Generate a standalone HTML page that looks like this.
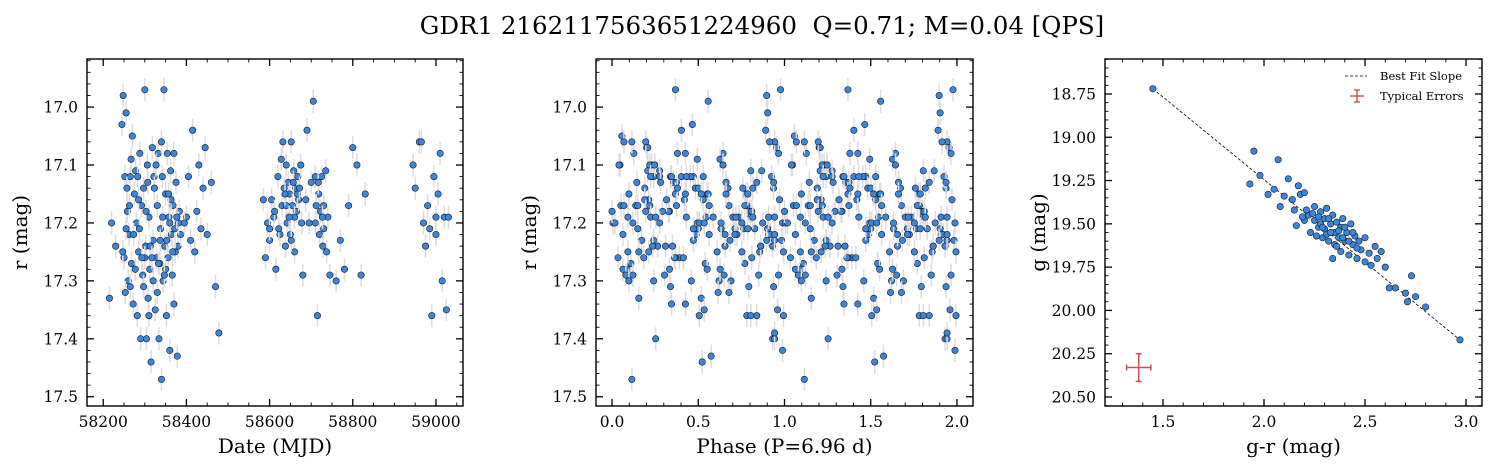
<!DOCTYPE html>
<html><head><meta charset="utf-8">
<style>
html,body{margin:0;padding:0;background:#fff;}
svg{display:block;font-family:"DejaVu Serif","Liberation Serif",serif;}
</style></head>
<body>
<svg id="fig" width="1497" height="473" xmlns="http://www.w3.org/2000/svg">
<text x="762" y="34" text-anchor="middle" font-size="24.5" style="white-space:pre">GDR1 2162117563651224960  Q=0.71; M=0.04 [QPS]</text>
</svg>
<script>
// Light curve data (MJD, r mag)
const lcDates = [58215,58220,58230,58245,58248,58250,58252,58255,58258,58260,58262,58265,58268,58270,58272,58275,58278,58280,58282,58285,58288,58290,58292,58295,58297,58300,58302,58304,58306,58308,58310,58312,58315,58318,58320,58322,58325,58328,58330,58332,58334,58336,58338,58340,58342,58344,58346,58348,58350,58352,58354,58356,58358,58360,58362,58364,58366,58368,58370,58372,58375,58378,58380,58383,58386,58400,58405,58410,58415,58420,58425,58430,58440,58445,58450,58470,58478,58460,58255,58265,58285,58300,58320,58340,58350,58360,58370,58310,58330,
58247,58253,58263,58273,58283,58293,58303,58313,58323,58333,58343,58353,58363,58373,58381,58257,58267,58277,58287,58297,58307,58317,58327,58337,58347,58357,58367,58377,58395,58435,
58585,58590,58595,58600,58605,58610,58615,58620,58625,58628,58630,58632,58635,58638,58640,58642,58645,58648,58650,58652,58655,58658,58660,58662,58665,58668,58670,58675,58680,58690,58695,58700,58705,58710,58715,58718,58720,58722,58725,58728,58730,58735,58740,58745,58760,58770,58780,58790,58800,58810,58820,58830,58600,58640,58660,58710,58730,
58622,58637,58647,58657,58667,58677,58687,58712,58717,58727,58737,58612,58652,58672,
58945,58950,58960,58965,58970,58975,58980,58985,58990,58995,59000,59005,59010,59015,59020,59025,59030,59000];
const lcMags = [17.33,17.20,17.24,17.03,16.98,17.26,17.12,17.01,17.18,17.30,17.22,17.12,17.27,17.05,17.34,17.15,17.11,17.20,17.36,17.25,17.08,17.40,17.17,17.29,17.14,16.97,17.24,17.40,17.10,17.33,17.19,17.28,17.44,17.07,17.23,17.12,17.35,17.26,17.17,17.08,17.40,17.27,17.21,17.47,17.12,17.30,16.97,17.24,17.15,17.36,17.08,17.26,17.19,17.42,17.11,17.22,17.29,17.17,17.34,17.21,17.13,17.43,17.24,17.18,17.22,17.19,17.12,17.23,17.04,17.25,17.18,17.10,17.14,17.07,17.22,17.31,17.39,17.13,17.21,17.31,17.16,17.26,17.30,17.06,17.28,17.20,17.08,17.36,17.32,
17.25,17.32,17.17,17.22,17.12,17.26,17.18,17.24,17.14,17.27,17.19,17.23,17.16,17.25,17.20,17.14,17.09,17.28,17.21,17.31,17.13,17.26,17.10,17.23,17.29,17.15,17.25,17.19,17.20,17.21,
17.16,17.26,17.20,17.23,17.16,17.19,17.28,17.12,17.22,17.09,17.17,17.06,17.14,17.24,17.10,17.20,17.13,17.15,17.22,17.06,17.17,17.11,17.25,17.14,17.18,17.12,17.16,17.10,17.29,17.04,17.20,17.13,16.99,17.20,17.36,17.15,17.22,17.18,17.12,17.24,17.17,17.11,17.19,17.29,17.30,17.23,17.28,17.17,17.07,17.10,17.29,17.15,17.21,17.17,17.19,17.12,17.21,
17.21,17.15,17.19,17.13,17.15,17.20,17.16,17.17,17.13,17.19,17.25,17.18,17.23,17.14,
17.10,17.14,17.06,17.06,17.20,17.24,17.17,17.21,17.36,17.12,17.19,17.15,17.08,17.30,17.19,17.35,17.19,17.22];
const period = 6.96;
// Color-magnitude data
const cmGR = [1.45,1.93,1.95,1.98,2.02,2.05,2.07,2.08,2.10,2.12,2.15,2.17,2.18,2.20,2.20,2.22,2.23,2.25,2.25,2.27,2.28,2.29,2.30,2.30,2.31,2.32,2.33,2.34,2.35,2.35,2.36,2.37,2.38,2.38,2.39,2.40,2.41,2.42,2.43,2.44,2.45,2.46,2.47,2.48,2.50,2.50,2.52,2.53,2.55,2.56,2.58,2.60,2.62,2.65,2.70,2.71,2.73,2.75,2.80,2.97,2.26,2.28,2.32,2.36,2.40,2.44,2.34,2.16,2.14,2.24,2.29,2.31,2.37,2.39,2.42,2.46,2.33,2.27,2.21,2.19];
const cmG = [18.72,19.27,19.08,19.22,19.33,19.30,19.13,19.40,19.34,19.24,19.42,19.28,19.33,19.48,19.32,19.45,19.55,19.40,19.48,19.52,19.43,19.58,19.47,19.53,19.41,19.60,19.50,19.45,19.62,19.55,19.49,19.58,19.52,19.66,19.47,19.60,19.55,19.68,19.50,19.62,19.57,19.70,19.60,19.65,19.72,19.58,19.67,19.74,19.63,19.70,19.66,19.75,19.87,19.87,19.90,19.95,19.80,19.92,19.98,20.17,19.57,19.50,19.47,19.63,19.52,19.55,19.70,19.51,19.36,19.44,19.52,19.56,19.54,19.58,19.60,19.64,19.55,19.46,19.42,19.46];
const fitLine = [[1.45,18.72],[2.97,20.17]];
const typErr = {x:1.38, y:20.33, xe:0.06, ye:0.08};

const NS="http://www.w3.org/2000/svg";
const fig=document.getElementById('fig');
function mk(tag,attrs,parent){const e=document.createElementNS(NS,tag);for(const k in attrs)e.setAttribute(k,attrs[k]);(parent||fig).appendChild(e);return e;}

function axes(o){
  const g=mk('g',{});
  
  
  const sx=v=>o.x0+(v-o.xmin)/(o.xmax-o.xmin)*(o.x1-o.x0);
  const sy=v=>o.y0+(v-o.ymin)/(o.ymax-o.ymin)*(o.y1-o.y0);
  const marks=mk('g',{},g);
  const t=mk('g',{stroke:'#000'},g);
  const eps=1e-9;
  for(let v=Math.ceil((o.xmin)/o.xminor-eps)*o.xminor; v<=o.xmax+eps; v+=o.xminor){
    const major=Math.abs(v/o.xmajor-Math.round(v/o.xmajor))<1e-6;
    const L=major?7:3.5,X=sx(v);
    mk('line',{x1:X,x2:X,y1:o.y1,y2:o.y1-L,'stroke-width':major?1.3:0.9},t);
    mk('line',{x1:X,x2:X,y1:o.y0,y2:o.y0+L,'stroke-width':major?1.3:0.9},t);
    if(major){const tl=mk('text',{x:X,y:o.y1+21,'text-anchor':'middle','font-size':15.5,stroke:'none'},g);tl.textContent=o.xfmt(v);
      }
  }
  for(let v=Math.ceil((o.ymin)/o.yminor-eps)*o.yminor; v<=o.ymax+eps; v+=o.yminor){
    const major=Math.abs(v/o.ymajor-Math.round(v/o.ymajor))<1e-6;
    const L=major?7:3.5,Y=sy(v);
    mk('line',{x1:o.x0,x2:o.x0+L,y1:Y,y2:Y,'stroke-width':major?1.3:0.9},t);
    mk('line',{x1:o.x1,x2:o.x1-L,y1:Y,y2:Y,'stroke-width':major?1.3:0.9},t);
    if(major){const tl=mk('text',{x:o.x0-9,y:Y+5.5,'text-anchor':'end','font-size':15.5},g);tl.textContent=o.yfmt(v);
      }
  }
  const fr=mk('rect',{x:o.x0,y:o.y0,width:o.x1-o.x0,height:o.y1-o.y0,fill:'none',stroke:'#000','stroke-width':1.4},g);
  
  const xl=mk('text',{x:(o.x0+o.x1)/2,y:o.y1+47,'text-anchor':'middle','font-size':20},g);xl.textContent=o.xlabel;
  
  const yl=mk('text',{x:0,y:0,'text-anchor':'middle','font-size':20,transform:`translate(${o.x0-60},${(o.y0+o.y1)/2}) rotate(-90)`},g);yl.textContent=o.ylabel;
  
  return {sx,sy,marks};
}
function pt(ax,x,y,err){
  const X=ax.sx(x),Y=ax.sy(y);
  if(err){const e=mk('line',{x1:X,x2:X,y1:ax.sy(y-err),y2:ax.sy(y+err),stroke:'#ddd','stroke-width':1.5},ax.marks);
    }
  const c=mk('circle',{cx:X,cy:Y,r:3.2,fill:'#3b86d8',stroke:'#1a1a2a','stroke-width':0.6},ax.marks);
  
}
const f1=v=>v.toFixed(1), f2=v=>v.toFixed(2), f0=v=>Math.round(v).toString();

const a1=axes({name:'light-curve-panel',x0:87,x1:463,y0:59,y1:406,xmin:58161,xmax:59065,ymin:16.917,ymax:17.516,xmajor:200,xminor:50,ymajor:0.1,yminor:0.02,xfmt:f0,yfmt:f1,xlabel:'Date (MJD)',ylabel:'r (mag)'});
lcDates.forEach((d,i)=>pt(a1,d,lcMags[i],0.02));

const a2=axes({name:'phase-folded-panel',x0:596,x1:973,y0:59,y1:406,xmin:-0.093,xmax:2.093,ymin:16.917,ymax:17.516,xmajor:0.5,xminor:0.1,ymajor:0.1,yminor:0.02,xfmt:f1,yfmt:f1,xlabel:'Phase (P=6.96 d)',ylabel:'r (mag)'});
lcDates.forEach((d,i)=>{const ph=((d-58200)/period)%1; pt(a2,ph,lcMags[i],0.02); pt(a2,ph+1,lcMags[i],0.02);});

const a3=axes({name:'color-magnitude-panel',x0:1105,x1:1482,y0:59,y1:406,xmin:1.213,xmax:3.079,ymin:18.548,ymax:20.552,xmajor:0.5,xminor:0.1,ymajor:0.25,yminor:0.05,xfmt:f1,yfmt:f2,xlabel:'g-r (mag)',ylabel:'g (mag)'});
const fl=mk('line',{x1:a3.sx(fitLine[0][0]),y1:a3.sy(fitLine[0][1]),x2:a3.sx(fitLine[1][0]),y2:a3.sy(fitLine[1][1]),stroke:'#000','stroke-width':0.8,'stroke-dasharray':'3,2'},a3.marks);

cmGR.forEach((x,i)=>pt(a3,x,cmG[i],0));
const eg=mk('g',{stroke:'#d05050','stroke-width':1.5});

{const X=a3.sx(typErr.x),Y=a3.sy(typErr.y),x1=a3.sx(typErr.x-typErr.xe),x2=a3.sx(typErr.x+typErr.xe),y1=a3.sy(typErr.y-typErr.ye),y2=a3.sy(typErr.y+typErr.ye);
 mk('line',{x1:x1,x2:x2,y1:Y,y2:Y},eg);mk('line',{x1:X,x2:X,y1:y1,y2:y2},eg);
 mk('line',{x1:x1,x2:x1,y1:Y-3,y2:Y+3},eg);mk('line',{x1:x2,x2:x2,y1:Y-3,y2:Y+3},eg);
 mk('line',{x1:X-3,x2:X+3,y1:y1,y2:y1},eg);mk('line',{x1:X-3,x2:X+3,y1:y2,y2:y2},eg);}
const lg=mk('g',{});

mk('line',{x1:1345,x2:1367,y1:76,y2:76,stroke:'#000','stroke-width':0.8,'stroke-dasharray':'3,2'},lg);
const l1=mk('text',{x:1380,y:80,'font-size':11.5},lg);l1.textContent='Best Fit Slope';

const lx=mk('g',{stroke:'#d05050','stroke-width':1.4},lg);
mk('line',{x1:1350,x2:1364,y1:96,y2:96},lx);mk('line',{x1:1357,x2:1357,y1:90,y2:102},lx);
mk('line',{x1:1354,x2:1360,y1:90,y2:90},lx);mk('line',{x1:1354,x2:1360,y1:102,y2:102},lx);
const l2=mk('text',{x:1380,y:100,'font-size':11.5},lg);l2.textContent='Typical Errors';

</script>
</body></html>
